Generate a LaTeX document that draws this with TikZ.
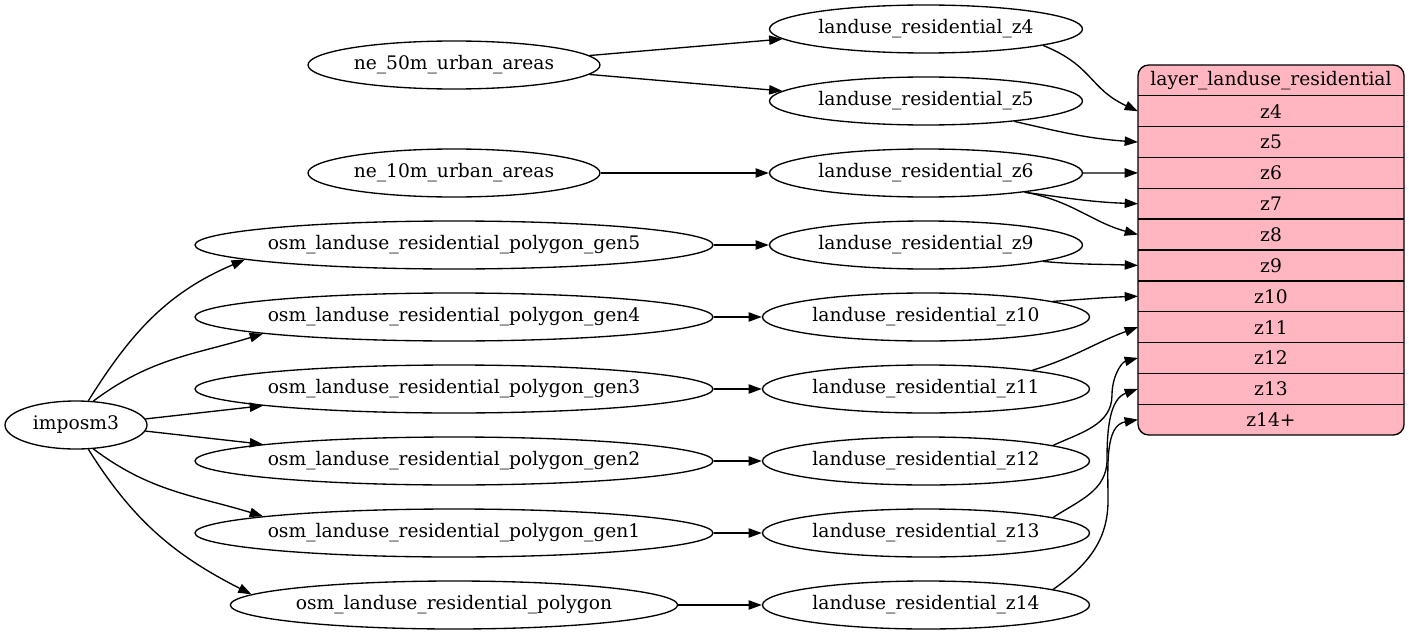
\documentclass[tikz,border=0pt]{standalone}
\usepackage{fontspec}
\setmainfont{DejaVu Serif}
\usetikzlibrary{arrows.meta,calc,shapes.geometric}
\definecolor{recpink}{HTML}{FFB6C1}
\tikzset{
	%Define standard arrow tip
	>={Triangle[length=10pt,width=7pt]},
	%Define style for the ellipses
	tbl/.style={
		ellipse,
		draw=black, line width=1pt,
		inner sep=0pt,
		minimum height=36pt,
		font=\fontsize{14pt}{16pt}\selectfont},
	%Define style for the record
	rec/.style={
		rectangle,
		rounded corners=8pt,
		draw=black, line width=1pt,
		fill=recpink,
		minimum width=199.5pt,
		minimum height=277.5pt},
	fld/.style={
		rectangle,
		inner sep=0pt, outer sep=0pt,
		minimum width=199.5pt,
		minimum height=23.125pt,
		font=\fontsize{14pt}{16pt}\selectfont},
	% Define arrow style
	arr/.style={
		->,
		line width=1pt}
}
\begin{document}
\begin{tikzpicture}[x=0.75pt,y=-0.75pt]
	\useasboundingbox (0,0) rectangle (1409,635);
	% node imposm3
	\node[tbl, minimum width=106.5pt] (imposm) at (76,425) {imposm3};
	% osm tables
	\node[tbl, inner xsep=-3pt, minimum width=388.5pt] (gen5) at (454,245) {osm\_landuse\_residential\_polygon\_gen5};
	\node[tbl, inner xsep=-3pt, minimum width=388.5pt] (gen4) at (454,317) {osm\_landuse\_residential\_polygon\_gen4};
	\node[tbl, inner xsep=-3pt, minimum width=388.5pt] (gen3) at (454,389) {osm\_landuse\_residential\_polygon\_gen3};
	\node[tbl, inner xsep=-3pt, minimum width=388.5pt] (gen2) at (454,461) {osm\_landuse\_residential\_polygon\_gen2};
	\node[tbl, inner xsep=-3pt, minimum width=388.5pt] (gen1) at (454,533) {osm\_landuse\_residential\_polygon\_gen1};
	\node[tbl, minimum width=333.75pt] (polygon) at (454,605) {osm\_landuse\_residential\_polygon};
	% natural earth tables
	\node[tbl, minimum width=219pt] (ne50) at (454,65) {ne\_50m\_urban\_areas};
	\node[tbl, minimum width=219pt] (ne10) at (454,173) {ne\_10m\_urban\_areas};
	% zoom levels
	\node[tbl, minimum width=234.75pt] (z4) at (926,29) {landuse\_residential\_z4};
	\node[tbl, minimum width=234.75pt] (z5) at (926,101) {landuse\_residential\_z5};
	\node[tbl, minimum width=234.75pt] (z6) at (926,173) {landuse\_residential\_z6};
	\node[tbl, minimum width=234.75pt] (z9) at (926,245) {landuse\_residential\_z9};
	\node[tbl, minimum width=245.25pt] (z10) at (926,317) {landuse\_residential\_z10};
	\node[tbl, minimum width=245.25pt] (z11) at (926,389) {landuse\_residential\_z11};
	\node[tbl, minimum width=245.25pt] (z12) at (926,461) {landuse\_residential\_z12};
	\node[tbl, minimum width=245.25pt] (z13) at (926,533) {landuse\_residential\_z13};
	\node[tbl, minimum width=245.25pt] (z14) at (926,605) {landuse\_residential\_z14};
	% record layer_landuse_residential
	\node[rec] (layer) at (1271,250) {};
	\node[fld] (hdr) at (1271,80.42) {layer\_landuse\_residential};
	\foreach \n/\t [count=\i] in {4/z4,5/z5,6/z6,7/z7,8/z8,9/z9,10/z10,11/z11,12/z12,13/z13,14/z14+}{
		\node[fld] (f\n) at (1271,{65+30.833*(\i+0.5)}) {\t};
		\draw[line width=1pt] (f\n.north west) -- (f\n.north east);
	}
	% imposm3 to tables
	\draw[arr] (imposm.63) to[out=58,in=203] (gen5.184);
	\draw[arr] (imposm.54) to[out=37,in=197] (gen4.185);
	\draw[arr] (imposm.5) -- (gen3.185);
	\draw[arr] (imposm.-5) -- (gen2.175);
	\draw[arr] (imposm.-54) to[out=-37,in=163] (gen1.175);
	\draw[arr] (imposm.-63) to[out=-58,in=153] (polygon.177);
	% tables to zoom levels
	\draw[arr] (ne50.4) -- (z4.184);
	\draw[arr] (ne50.-4) -- (z5.176);
	\draw[arr] (ne10.east) -- (z6.west);
	\draw[arr] (gen5.east) -- (z9.west);
	\draw[arr] (gen4.east) -- (z10.west);
	\draw[arr] (gen3.east) -- (z11.west);
	\draw[arr] (gen2.east) -- (z12.west);
	\draw[arr] (gen1.east) -- (z13.west);
	\draw[arr] (polygon.east) -- (z14.west);
	% zoom levels to record fields
	\draw[arr] (z4.-8) to[out=-22,in=155,looseness=1.2] (f4.west);
	\draw[arr] (z5.-13) to[out=-13,in=176] (f5.west);
	\draw[arr] (z6.east) -- (f6.west);
	\draw[arr] (z6.-11) to[out=-8,in=178] (f7.west);
	\draw[arr] (z6.-11) to[out=-10,in=165] (f8.west);
	\draw[arr] (z9.-8) to[out=-5,in=178] (f9.west);
	\draw[arr] (z10.7) to[out=4,in=182] (f10.west);
	\draw[arr] (z11.10) to[out=17,in=200] (f11.west);
	\draw[arr] (z12.7) to[out=25,in=-90] ($(f12.west)+(-26,37)$) to[out=90,in=195] (f12.west);
	\draw[arr] (z13.7) to[out=33,in=-90] ($(f13.west)+(-31,71)$) to[out=90,in=200] (f13.west);
	\draw[arr] (z14.7) to[out=35,in=-90] ($(f14.west)+(-30,81)$) to[out=90,in=190] (f14.west);
\end{tikzpicture}
\end{document}
